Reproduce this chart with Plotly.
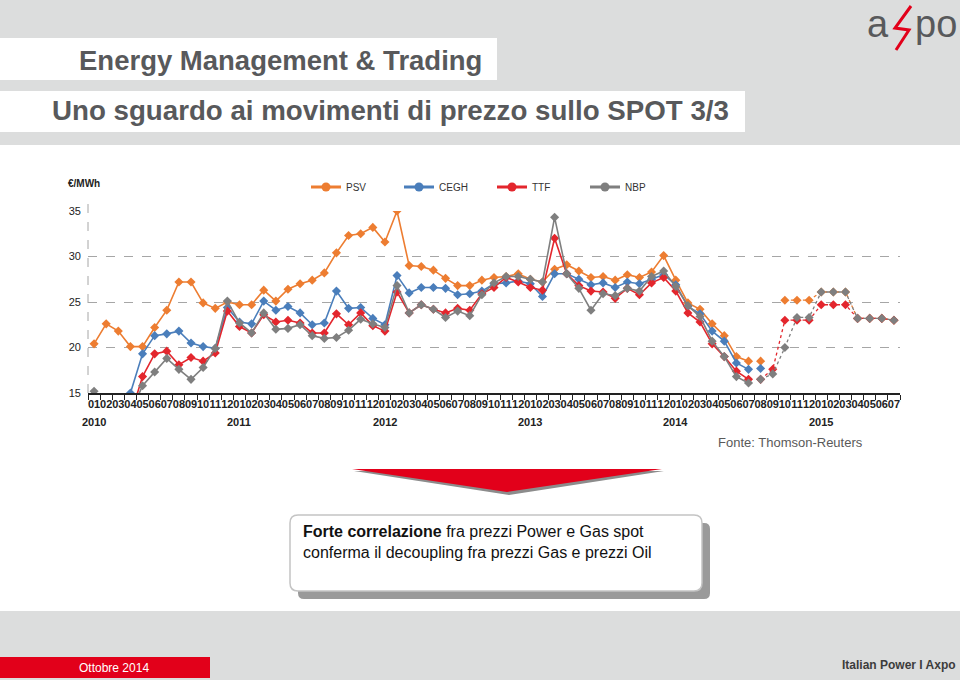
import plotly.graph_objects as go

# month tick labels (2010-01 .. 2015-07)
years = ['2010', '2011', '2012', '2013', '2014', '2015']
month_labels = ['01', '02', '03', '04', '05', '06', '07', '08', '09', '10', '11', '12']
cats = []
ticktext = []
for y in years:
    for m in month_labels:
        if y == '2015' and int(m) > 7:
            break
        cats.append(y + '-' + m)
        ticktext.append(m)

# spot prices, EUR/MWh, 2010-01 .. 2014-07 (solid part)
psv = [20.4, 22.6, 21.8, 20.1, 20.1, 22.2, 24.1, 27.2, 27.2, 24.9, 24.3, 25.0,
       24.7, 24.7, 26.3, 25.1, 26.4, 27.0, 27.4, 28.2, 30.4, 32.3, 32.5, 33.2,
       31.6, 35.0, 29.0, 28.9, 28.5, 27.6, 26.8, 26.8, 27.4, 27.7, 27.8, 28.1,
       27.5, 27.2, 28.6, 29.1, 28.4, 27.7, 27.8, 27.4, 28.0, 27.7, 28.3, 30.1,
       27.4, 24.9, 24.2, 22.6, 21.3, 19.0, 18.5]
cegh = [None, None, None, 15.0, 19.3, 21.3, 21.5, 21.8, 20.5, 20.1, 19.9, 24.4,
        22.8, 22.6, 25.1, 24.1, 24.5, 23.8, 22.5, 22.7, 26.2, 24.3, 24.4, 23.2,
        22.5, 27.9, 26.0, 26.6, 26.6, 26.5, 25.8, 25.9, 26.2, 27.0, 27.1, 27.3,
        27.0, 25.6, 28.1, 28.1, 27.5, 26.9, 27.1, 26.6, 27.2, 27.0, 27.5, 28.0,
        26.9, 24.5, 23.7, 21.8, 20.7, 18.3, 17.6]
ttf = [None, None, None, 12.5, 16.8, 19.3, 19.6, 18.1, 18.9, 18.5, 19.4, 24.0,
       22.3, 21.6, 23.6, 22.8, 23.0, 22.7, 21.6, 21.6, 23.7, 22.5, 23.8, 22.4,
       21.8, 26.1, 23.8, 24.7, 24.2, 23.8, 24.3, 24.1, 25.9, 26.6, 27.7, 27.2,
       26.6, 26.3, 32.0, 28.1, 26.8, 26.2, 26.1, 25.4, 26.5, 25.8, 27.1, 27.7,
       26.2, 23.8, 22.8, 20.4, 19.0, 17.4, 16.5]
nbp = [15.2, 13.5, 13.0, 12.8, 15.8, 17.3, 18.8, 17.6, 16.5, 17.8, 19.9, 25.1,
       22.7, 21.6, 23.8, 22.0, 22.1, 22.5, 21.3, 21.0, 21.1, 21.9, 23.1, 22.6,
       22.2, 26.8, 23.8, 24.7, 24.2, 23.3, 24.0, 23.5, 25.8, 27.1, 27.8, 27.8,
       27.5, 27.2, 34.3, 28.1, 26.5, 24.1, 25.9, 25.7, 26.5, 26.2, 27.8, 28.4,
       26.7, 24.6, 23.4, 20.7, 19.0, 16.8, 16.1]

# 2014-08 .. 2015-07 (last spot + forward, dotted)
psv_fwd = [18.5, None, 25.2, 25.2, 25.2, 26.1, 26.1, 26.1, 23.2, 23.2, 23.2, 23.0]
cegh_fwd = [17.7, None, None, None, None, None, None, None, None, None, None, None]
ttf_fwd = [16.5, 17.6, 23.0, 23.0, 23.0, 24.7, 24.7, 24.7, 23.2, 23.2, 23.2, 23.0]
nbp_fwd = [16.5, 17.1, 20.0, 23.3, 23.3, 26.1, 26.1, 26.1, 23.2, 23.2, 23.2, 23.0]

names = ['PSV', 'CEGH', 'TTF', 'NBP']
colors = ['#ed7d31', '#4a7ebb', '#e3262d', '#7f7f7f']

# plot area in pixels
L, R, T, B = 88, 900, 211, 393


def px(x):
    return (x - L) / (R - L)


def py(y):
    return (B - y) / (B - T)


fig = go.Figure()
n_solid = len(psv)
for name, col, solid, fwd in zip(names, colors, [psv, cegh, ttf, nbp],
                                 [psv_fwd, cegh_fwd, ttf_fwd, nbp_fwd]):
    fig.add_trace(go.Scatter(x=cats[:n_solid], y=solid, mode='lines+markers', name=name,
                             line=dict(color=col, width=1.6),
                             marker=dict(symbol='diamond', size=7, color=col),
                             showlegend=False, cliponaxis=True))
    fig.add_trace(go.Scatter(x=cats[n_solid:], y=fwd, mode='lines+markers', name=name,
                             line=dict(color=col, width=1.3, dash='dot'),
                             marker=dict(symbol='diamond', size=7, color=col),
                             showlegend=False, cliponaxis=True))
    # legend entry
    fig.add_trace(go.Scatter(x=[None], y=[None], mode='lines+markers', name=name,
                             line=dict(color=col, width=3),
                             marker=dict(symbol='circle', size=9, color=col)))

shapes = []
# slide background bands
shapes.append(dict(type='rect', xref='paper', yref='paper', layer='below',
                   x0=px(0), x1=px(960), y0=py(145), y1=py(611),
                   fillcolor='white', line=dict(width=0)))
shapes.append(dict(type='rect', xref='paper', yref='paper', layer='below',
                   x0=px(0), x1=px(497), y0=py(38), y1=py(80),
                   fillcolor='white', line=dict(width=0)))
shapes.append(dict(type='rect', xref='paper', yref='paper', layer='below',
                   x0=px(0), x1=px(745), y0=py(91), y1=py(132),
                   fillcolor='white', line=dict(width=0)))
shapes.append(dict(type='rect', xref='paper', yref='paper', layer='below',
                   x0=px(0), x1=px(210), y0=py(657), y1=py(678),
                   fillcolor='#e2001a', line=dict(width=0)))
# dashed y-axis line
shapes.append(dict(type='line', xref='paper', yref='paper', layer='below',
                   x0=0, x1=0, y0=0, y1=py(201),
                   line=dict(color='#a6a6a6', width=1, dash='dash')))


def path(points):
    return 'M ' + ' L '.join('%.5f,%.5f' % (px(a), py(b)) for a, b in points) + ' Z'


# red arrow with shadow
shapes.append(dict(type='path', xref='paper', yref='paper', layer='below',
                   path=path([(354, 471), (664, 471), (509, 495)]),
                   fillcolor='#8c8c8c', line=dict(width=0)))
shapes.append(dict(type='path', xref='paper', yref='paper', layer='below',
                   path=path([(352, 469), (662, 469), (507, 492)]),
                   fillcolor='#e2001a', line=dict(width=0)))


def rounded(x0, y0, x1, y1, r):
    p = 'M %.5f,%.5f' % (px(x0 + r), py(y0))
    p += ' L %.5f,%.5f' % (px(x1 - r), py(y0))
    p += ' Q %.5f,%.5f %.5f,%.5f' % (px(x1), py(y0), px(x1), py(y0 + r))
    p += ' L %.5f,%.5f' % (px(x1), py(y1 - r))
    p += ' Q %.5f,%.5f %.5f,%.5f' % (px(x1), py(y1), px(x1 - r), py(y1))
    p += ' L %.5f,%.5f' % (px(x0 + r), py(y1))
    p += ' Q %.5f,%.5f %.5f,%.5f' % (px(x0), py(y1), px(x0), py(y1 - r))
    p += ' L %.5f,%.5f' % (px(x0), py(y0 + r))
    p += ' Q %.5f,%.5f %.5f,%.5f Z' % (px(x0), py(y0), px(x0 + r), py(y0))
    return p


shapes.append(dict(type='path', xref='paper', yref='paper', layer='below',
                   path=rounded(298, 523, 710, 599, 6),
                   fillcolor='#9a9a9a', line=dict(width=0)))
shapes.append(dict(type='path', xref='paper', yref='paper', layer='below',
                   path=rounded(290, 515, 702, 591, 8),
                   fillcolor='white', line=dict(color='#c4c4c4', width=1.5)))
# logo bolt
shapes.append(dict(type='path', xref='paper', yref='paper',
                   path='M %.5f,%.5f L %.5f,%.5f L %.5f,%.5f L %.5f,%.5f' % (
                       px(911), py(6), px(895), py(28), px(909), py(30), px(896), py(50)),
                   line=dict(color='#e2001a', width=3)))

ann = []
grey = '#58595b'
ann.append(dict(text='<b>Energy Management & Trading</b>', x=px(484), y=py(60),
                xanchor='right', yanchor='middle', font=dict(size=27.5, color=grey)))
ann.append(dict(text='<b>Uno sguardo ai movimenti di prezzo sullo SPOT 3/3</b>', x=px(731), y=py(111),
                xanchor='right', yanchor='middle', font=dict(size=27.7, color=grey)))
ann.append(dict(text='a', x=px(891), y=py(24), xanchor='right', yanchor='middle',
                font=dict(size=38, color=grey)))
ann.append(dict(text='po', x=px(913), y=py(24), xanchor='left', yanchor='middle',
                font=dict(size=38, color=grey)))
ann.append(dict(text='Ottobre 2014', x=px(114), y=py(668), xanchor='center', yanchor='middle',
                font=dict(size=12, color='white')))
ann.append(dict(text='<b>Italian Power I Axpo</b>', x=px(958), y=py(665), xanchor='right',
                yanchor='middle', font=dict(size=12, color='#3c3c3c')))
ann.append(dict(text='<b>€/MWh</b>', x=px(66), y=py(183), xanchor='left', yanchor='middle',
                font=dict(size=10, color='#222222')))
ann.append(dict(text='Fonte: Thomson-Reuters', x=px(716), y=py(442), xanchor='left',
                yanchor='middle', font=dict(size=13, color='#595959')))
ann.append(dict(text='<b>Forte correlazione</b> fra prezzi Power e Gas spot<br>'
                     'conferma il decoupling fra prezzi Gas e prezzi Oil',
                x=px(301), y=py(521), xanchor='left', yanchor='top', align='left',
                font=dict(size=16, color='#111111')))
for y in years:
    ann.append(dict(text='<b>%s</b>' % y, x=y + '-01', xref='x', y=py(422), yref='paper',
                    xanchor='center', yanchor='middle', showarrow=False,
                    font=dict(size=11, color='#222222')))
for a in ann:
    a.setdefault('xref', 'paper')
    a.setdefault('yref', 'paper')
    a.setdefault('showarrow', False)

fig.update_layout(
    width=960, height=680, autosize=False,
    margin=dict(l=L, r=960 - R, t=T, b=680 - B, pad=0),
    paper_bgcolor='#dcdddd', plot_bgcolor='rgba(0,0,0,0)',
    font=dict(family='Arial, Liberation Sans, sans-serif', color='#222222'),
    shapes=shapes, annotations=ann,
    legend=dict(orientation='h', x=px(306), y=py(187), xanchor='left', yanchor='middle',
                bgcolor='rgba(0,0,0,0)', font=dict(size=10, color='#333333'),
                entrywidth=48, entrywidthmode='pixels', itemwidth=30),
    xaxis=dict(type='category', categoryorder='array', categoryarray=cats,
               range=[-0.5, len(cats) - 0.5], tickmode='array', tickvals=cats,
               ticktext=['<b>%s</b>' % t for t in ticktext],
               tickson='boundaries', ticks='outside', ticklen=5, tickcolor='#222222',
               tickangle=0, showgrid=False, showline=True, linecolor='#222222', linewidth=1.5,
               tickfont=dict(size=11, color='#222222'),
               zeroline=False),
    yaxis=dict(range=[15, 35], tickvals=[15, 20, 25, 30, 35], showgrid=True,
               gridcolor='#a6a6a6', griddash='dash', gridwidth=1, zeroline=False,
               showline=False, ticks='', ticklabelstandoff=6,
               tickprefix='<b>', ticksuffix='</b>',
               tickfont=dict(size=11, color='#222222')),
)

fig.write_html('out.html', config={'displayModeBar': False},
               post_script="document.body.style.margin='0';")
